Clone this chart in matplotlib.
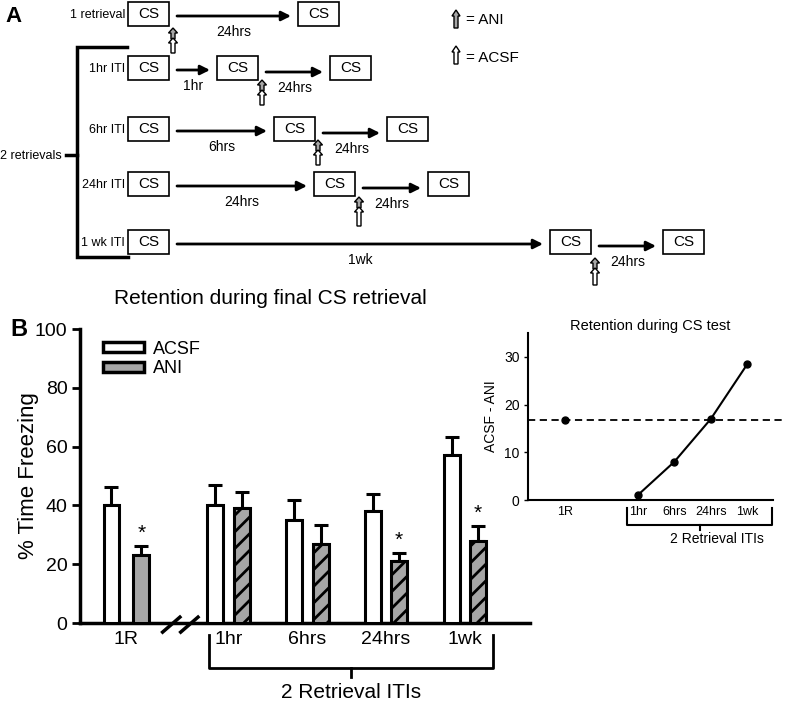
import numpy as np
import matplotlib
matplotlib.use("Agg")
import matplotlib.pyplot as plt
import matplotlib.patches as mpatches
from matplotlib.patches import Patch

plt.rcParams['font.family'] = ['Liberation Sans', 'DejaVu Sans']
plt.rcParams['hatch.linewidth'] = 2.0

# ---- data: panel B ----
groups = ["1R", "1hr", "6hrs", "24hrs", "1wk"]
acsf_mean = [40, 40, 35, 38, 57]
acsf_sem = [6.3, 7.0, 7.0, 5.8, 6.3]
ani_mean = [23, 39, 27, 21, 28]
ani_sem = [3.3, 5.5, 6.5, 2.9, 5.1]
ani_sig = [True, False, False, True, True]

# inset: ACSF - ANI difference
diff_labels = ["1R", "1hr", "6hrs", "24hrs", "1wk"]
diff_vals = [16.7, 1.0, 8.0, 17.0, 28.5]

# ---- data: panel A schematic ----
row_labels = ["1 retrieval", "1hr ITI", "6hr ITI", "24hr ITI", "1 wk ITI"]
row_y = [14, 68, 129, 184, 242]
row_boxes = [[128, 298], [128, 217, 330], [128, 274, 387], [128, 314, 428], [128, 550, 663]]
row_gaps = [["24hrs"], ["1hr", "24hrs"], ["6hrs", "24hrs"], ["24hrs", "24hrs"], ["1wk", "24hrs"]]
inj_x = [173, 262, 318, 359, 595]
inj_y = [(28, 53), (80, 105), (140, 165), (197, 226), (258, 285)]

GRAY = '#a6a6a6'

fig = plt.figure(figsize=(7.85, 7.02), dpi=100)

# ---------- panel A (pixel coordinates) ----------
axA = fig.add_axes([0, 0, 1, 1], zorder=0)
axA.set_xlim(0, 785)
axA.set_ylim(702, 0)
axA.axis('off')


def up_arrow(ax, x, ybot, ytop, fc, sw=4, hw=9, hl=5):
    pts = [(x - sw / 2, ybot), (x - sw / 2, ytop + hl), (x - hw / 2, ytop + hl), (x, ytop),
           (x + hw / 2, ytop + hl), (x + sw / 2, ytop + hl), (x + sw / 2, ybot)]
    ax.add_patch(mpatches.Polygon(pts, closed=True, fc=fc, ec='black', lw=1))


bw, bh = 41, 24
for lab, yc, boxes, gaps, ix, (iy0, iy1) in zip(row_labels, row_y, row_boxes, row_gaps, inj_x, inj_y):
    axA.text(125, yc + 1, lab, ha='right', va='center', fontsize=9)
    for i, bx in enumerate(boxes):
        axA.add_patch(mpatches.Rectangle((bx, yc - bh / 2), bw, bh, fill=False, ec='black', lw=1.2))
        axA.text(bx + bw / 2, yc, "CS", ha='center', va='center', fontsize=11)
    for i, g in enumerate(gaps):
        x0 = boxes[i] + bw + 8
        x1 = boxes[i + 1] - 7
        ya = yc + 2 + 2 * i
        axA.annotate("", xy=(x1, ya), xytext=(x0, ya),
                     arrowprops=dict(arrowstyle='-|>', lw=2, color='black', mutation_scale=14,
                                     shrinkA=0, shrinkB=0))
        axA.text((x0 + x1) / 2, ya + 16, g, ha='center', va='center', fontsize=10)
    up_arrow(axA, ix, iy0 + 11, iy0, GRAY)
    up_arrow(axA, ix, iy1, iy0 + 10, 'white')

# bracket for 2 retrievals
axA.plot([127, 77, 77, 128], [47, 47, 257, 257], color='black', lw=2.5, solid_joinstyle='miter')
axA.plot([66, 77], [155, 155], color='black', lw=2.5)
axA.text(62, 156, "2 retrievals", ha='right', va='center', fontsize=9)

# legend of panel A
up_arrow(axA, 456, 28, 10, GRAY, sw=4, hw=8, hl=6)
up_arrow(axA, 456, 64, 46, 'white', sw=4, hw=8, hl=6)
axA.text(466, 20, "= ANI", ha='left', va='center', fontsize=11)
axA.text(466, 58, "= ACSF", ha='left', va='center', fontsize=11)

axA.text(5, 16, "A", ha='left', va='center', fontsize=16, fontweight='bold')
axA.text(10, 330, "B", ha='left', va='center', fontsize=17, fontweight='bold')

fig.text(270 / 785, 1 - 298 / 702, "Retention during final CS retrieval",
         ha='center', va='center', fontsize=15)

# ---------- panel B main bar chart ----------
ax = fig.add_axes([80 / 785, (702 - 623) / 702, 450 / 785, (623 - 329) / 702], zorder=2)
ax.patch.set_alpha(0)
xpos = np.array([0.7, 2, 3, 4, 5])
off = np.array([0.19, 0.17, 0.17, 0.165, 0.165])
width = 0.2
hatches = ['', '//', '//', '//', '//']

ax.bar(xpos - off, acsf_mean, width, color='white', edgecolor='black', linewidth=2.2, zorder=3)
for xi, o, m, h in zip(xpos, off, ani_mean, hatches):
    ax.bar(xi + o, m, width, color=GRAY, edgecolor='black', linewidth=2.2, hatch=h, zorder=3)
ax.errorbar(xpos - off, acsf_mean, yerr=[np.zeros(5), acsf_sem], fmt='none', ecolor='black',
            elinewidth=2.2, capsize=5, capthick=2.2, zorder=2)
ax.errorbar(xpos + off, ani_mean, yerr=[np.zeros(5), ani_sem], fmt='none', ecolor='black',
            elinewidth=2.2, capsize=5, capthick=2.2, zorder=2)
for xi, o, m, s, sig in zip(xpos, off, ani_mean, ani_sem, ani_sig):
    if sig:
        ax.text(xi + o, m + s + 1.0, "*", ha='center', va='bottom', fontsize=15)

ax.set_xlim(0.11, 5.83)
ax.set_ylim(0, 100)
ax.set_yticks([0, 20, 40, 60, 80, 100])
ax.set_xticks(xpos)
ax.set_xticklabels(groups, fontsize=14)
ax.tick_params(axis='x', length=0, pad=6)
ax.tick_params(axis='y', length=6, width=2, direction='out', labelsize=14, pad=3)
for s in ['top', 'right']:
    ax.spines[s].set_visible(False)
for s in ['left', 'bottom']:
    ax.spines[s].set_linewidth(2.5)
ax.set_ylabel("% Time Freezing", fontsize=16, labelpad=-3)

# axis break marks
tr = ax.get_xaxis_transform()
for xb in [1.27, 1.50]:
    ax.plot([xb - 0.11, xb + 0.11], [-0.031, 0.02], color='black', lw=2.5, transform=tr, clip_on=False)

# bracket below 2-retrieval groups
ax.plot([1.75, 1.75, 5.36, 5.36], [-0.041, -0.153, -0.153, -0.041], color='black', lw=2,
        transform=tr, clip_on=False)
ax.plot([3.55, 3.55], [-0.153, -0.184], color='black', lw=2, transform=tr, clip_on=False)
ax.text(3.55, -0.235, "2 Retrieval ITIs", transform=tr, ha='center', va='center', fontsize=15)

leg = ax.legend(handles=[Patch(facecolor='white', edgecolor='black', linewidth=2.5, label='ACSF'),
                         Patch(facecolor=GRAY, edgecolor='black', linewidth=2.5, label='ANI')],
                loc='upper left', bbox_to_anchor=(0.05, 0.96), frameon=False, fontsize=13,
                handlelength=2.3, handleheight=0.45, labelspacing=0.15, handletextpad=0.5,
                borderpad=0, borderaxespad=0)

# ---------- inset ----------
ax2 = fig.add_axes([528 / 785, (702 - 500) / 702, (773 - 528) / 785, (500 - 333) / 702], zorder=3)
ax2.patch.set_alpha(0)
dx = np.array([0, 2, 3, 4, 5])
ax2.plot([-1, 6.0], [diff_vals[0], diff_vals[0]], '--', color='black', lw=1.3, clip_on=False,
         dashes=(4, 2.5))
ax2.plot(dx[1:], diff_vals[1:], '-', color='black', lw=1.5)
ax2.plot(dx, diff_vals, 'o', color='black', ms=5, clip_on=False)
ax2.set_xlim(-1, 5.7)
ax2.set_ylim(0, 35)
ax2.set_yticks([0, 10, 20, 30])
ax2.set_xticks(dx)
ax2.set_xticklabels(diff_labels, fontsize=9)
ax2.tick_params(axis='x', length=0, pad=4)
ax2.tick_params(axis='y', length=3, width=1, labelsize=10, pad=3)
for s in ['top', 'right']:
    ax2.spines[s].set_visible(False)
for s in ['left', 'bottom']:
    ax2.spines[s].set_linewidth(1.5)
ax2.set_ylabel("ACSF - ANI", fontsize=10, labelpad=4)
ax2.set_title("Retention during CS test", fontsize=10.5, pad=-3)
tr2 = ax2.get_xaxis_transform()
ax2.plot([1.72, 1.72, 5.66, 5.66], [-0.048, -0.15, -0.15, -0.048], color='black', lw=1.5,
         transform=tr2, clip_on=False)
ax2.plot([3.69, 3.69], [-0.15, -0.18], color='black', lw=1.5, transform=tr2, clip_on=False)
ax2.text(4.17, -0.234, "2 Retrieval ITIs", transform=tr2, ha='center', va='center', fontsize=10)

fig.savefig("out.png", dpi=100)
